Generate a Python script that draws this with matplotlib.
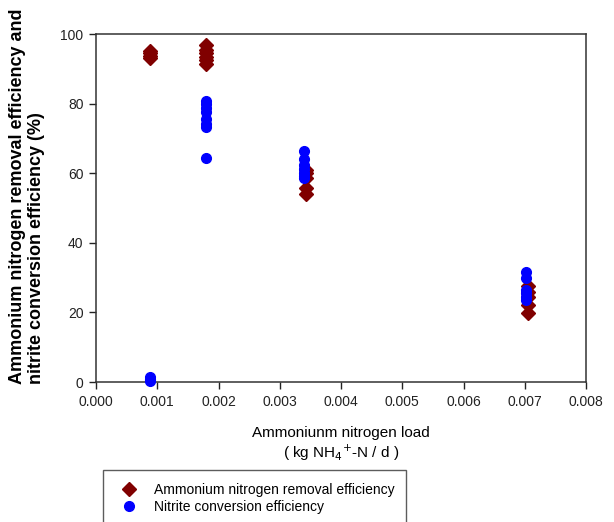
import matplotlib
matplotlib.use("Agg")
import matplotlib.pyplot as plt
from matplotlib.lines import Line2D

plt.rcParams['font.family'] = ['Liberation Sans', 'DejaVu Sans']

# Ammonium nitrogen removal efficiency (%)
red_x = [0.00088]*4 + [0.00180]*6 + [0.00343]*5 + [0.00705]*5
red_y = [93.2, 93.8, 94.5, 95.2,
         91.5, 92.5, 93.5, 94.5, 95.5, 96.7,
         54.0, 55.8, 58.5, 60.2, 61.0,
         19.8, 22.0, 24.5, 26.0, 27.5]
# Nitrite conversion efficiency (%)
blue_x = [0.00088]*4 + [0.00180]*8 + [0.00339]*7 + [0.00702]*6
blue_y = [0.2, 0.6, 1.0, 1.5,
          64.4, 73.2, 74.2, 75.5, 77.5, 78.8, 79.8, 80.8,
          58.5, 59.3, 60.0, 61.2, 62.5, 64.2, 66.5,
          23.5, 24.5, 25.5, 26.5, 30.0, 31.5]

xticks = [0.000, 0.001, 0.002, 0.003, 0.004, 0.005, 0.006, 0.007, 0.008]
yticks = [0, 20, 40, 60, 80, 100]

W, H = 614, 522
fig = plt.figure(figsize=(W/100, H/100), dpi=100)
ax = fig.add_axes([96/W, 1-382/H, (586-96)/W, (382-34)/H])

ax.plot(red_x, red_y, linestyle='none', marker='D', markersize=7.5,
        color='#800000', markeredgecolor='#800000', clip_on=False, zorder=3)
ax.plot(blue_x, blue_y, linestyle='none', marker='o', markersize=7,
        color='#0000FF', markeredgecolor='#0000FF', clip_on=False, zorder=4)

ax.set_xlim(0, 0.008)
ax.set_ylim(0, 100)
ax.set_xticks(xticks)
ax.set_xticklabels([f"{t:.3f}" for t in xticks])
ax.set_yticks(yticks)
ax.tick_params(direction='out', length=5, width=1, labelsize=10, colors='#222222', pad=4)
for s in ax.spines.values():
    s.set_linewidth(1.1)
    s.set_color('#333333')

fig.text(341/W, 1-433/H, "Ammoniunm nitrogen load", ha='center', va='center', fontsize=11)
fig.text(341/W, 1-453/H, r"( kg NH$_4$$^{+}$-N / d )", ha='center', va='center', fontsize=11)

fig.text(27/W, 1-384/H,
         "Ammonium nitrogen removal efficiency and\nnitrite conversion efficiency (%)",
         rotation=90, ha='center', va='bottom', multialignment='left',
         fontsize=13, fontweight='bold', linespacing=1.2)

handles = [Line2D([], [], linestyle='none', marker='D', markersize=7.5, color='#800000'),
           Line2D([], [], linestyle='none', marker='o', markersize=7, color='#0000FF')]
leg = fig.legend(handles, ["Ammonium nitrogen removal efficiency", "Nitrite conversion efficiency"],
                 loc='lower left', bbox_to_anchor=(103/W, -4/H, (406-103)/W, (522-468)/H),
                 mode='expand', fontsize=10, frameon=True, fancybox=False,
                 handletextpad=0.8, borderpad=0.9, labelspacing=0.2, handlelength=2.0,
                 borderaxespad=0)
leg.get_frame().set_edgecolor('#333333')
leg.get_frame().set_linewidth(1.0)

fig.savefig("out.png", dpi=100)
